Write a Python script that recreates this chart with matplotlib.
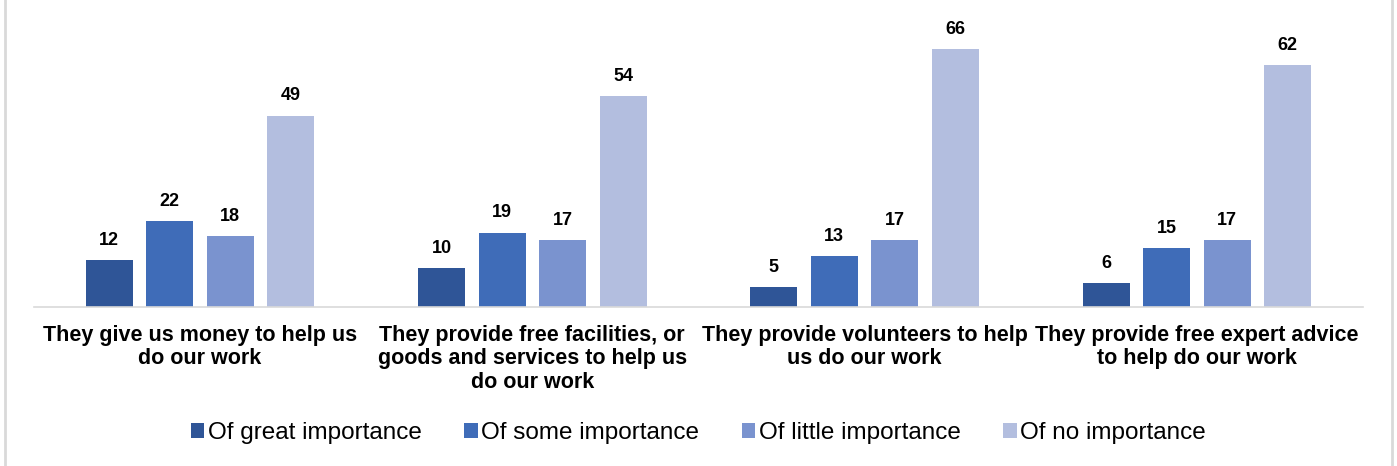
import numpy as np
import matplotlib.pyplot as plt
from matplotlib.lines import Line2D

plt.rcParams['font.family'] = ['Liberation Sans', 'DejaVu Sans']

categories = [
    "They give us money to help us\ndo our work",
    "They provide free facilities, or\ngoods and services to help us\ndo our work",
    "They provide volunteers to help\nus do our work",
    "They provide free expert advice\nto help do our work",
]
series = ["Of great importance", "Of some importance",
          "Of little importance", "Of no importance"]
great = [12, 10, 5, 6]
some = [22, 19, 13, 15]
little = [18, 17, 17, 17]
none_ = [49, 54, 66, 62]
values = [great, some, little, none_]
colors = ["#2F5597", "#3F6CB8", "#7A93CF", "#B3BEDF"]

fig = plt.figure(figsize=(13.97, 4.66), dpi=100)
ax = fig.add_axes([0.0243, 0.342, 0.9513, 0.636])

x = np.arange(len(categories))
width = 0.1415
step = 0.182
for k, (vals, col, name) in enumerate(zip(values, colors, series)):
    pos = x + (k - 1.5) * step
    bars = ax.bar(pos, vals, width, color=col, label=name)
    for b, v in zip(bars, vals):
        ax.annotate(str(v), (b.get_x() + b.get_width() / 2, v),
                    xytext=(0, 8), textcoords="offset points",
                    ha="center", va="bottom", fontsize=13, fontweight="bold")

ax.set_xlim(-0.5, len(categories) - 0.5)
ax.set_ylim(0, 76)
ax.set_yticks([])
ax.set_xticks(x)
ax.set_xticklabels(categories, fontsize=15.5, fontweight="bold", linespacing=1.17)
ax.tick_params(axis="x", length=0, pad=13)
for s in ["top", "right", "left"]:
    ax.spines[s].set_visible(False)
ax.spines["bottom"].set_color("#D9D9D9")
ax.spines["bottom"].set_linewidth(1.2)

fig.legend(loc="center", bbox_to_anchor=(0.5, 0.07), ncol=4, frameon=False,
           fontsize=17.5, handlelength=0.55, handleheight=0.55,
           handletextpad=0.15, columnspacing=1.75)

# thin grey frame edges at the sides
for xf in (0.0035, 0.9965):
    fig.add_artist(Line2D([xf, xf], [0, 1], color="#D9D9D9", lw=2,
                          transform=fig.transFigure))

fig.savefig("out.png", dpi=100)
